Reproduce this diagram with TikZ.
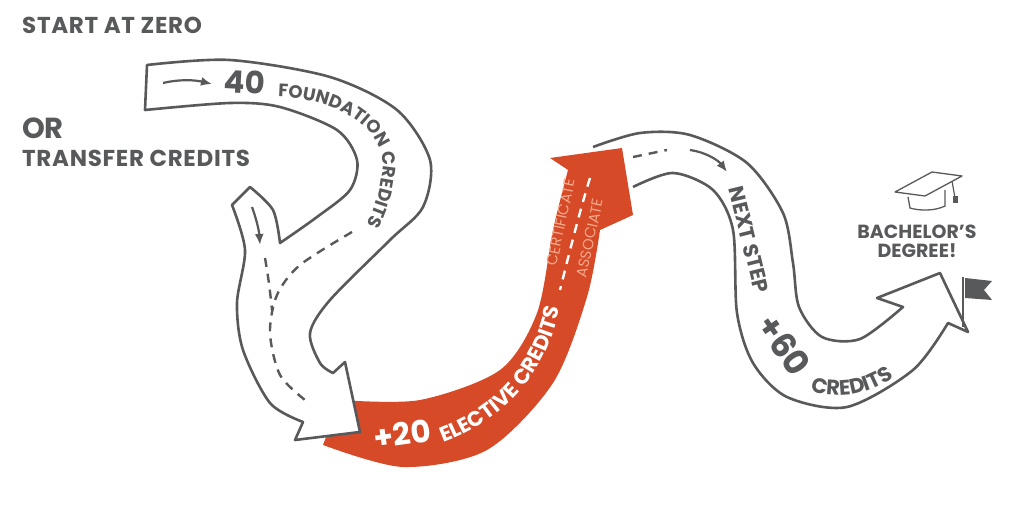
\documentclass[tikz,border=0pt]{standalone}
\usepackage{fontspec}
\setmainfont{Poppins}
\usetikzlibrary{decorations.text,arrows.meta}
\definecolor{roadgray}{HTML}{58595B}
\definecolor{roadorange}{HTML}{D64A28}
\definecolor{roadpink}{HTML}{F3A88A}
\newcommand{\fsz}[1]{\fontsize{#1}{#1}\selectfont}
\newcommand{\smallcaps}{\bfseries\fontsize{18pt}{18pt}\selectfont}
\newcommand{\midcaps}{\bfseries\fontsize{21pt}{21pt}\selectfont}
\begin{document}
\begin{tikzpicture}[x=1pt,y=-1pt,
  road/.style={draw=roadgray, line width=2.6pt, fill=white, line join=round},
  lane/.style={draw=roadgray, line width=2.4pt, dash pattern=on 9pt off 7pt},
  turn/.style={draw=roadgray, line width=2.2pt, -{Latex[length=11pt,width=9pt]}},
  label/.style={text=roadgray, font=\bfseries\fsz{23}\addfontfeatures{LetterSpace=3}, anchor=base west, inner sep=0pt},
  along/.style={decorate, decoration={text along path, text align=center, text color=#1}}]
\useasboundingbox (0,0) rectangle (1024,529);

% next step road
\draw[road] plot[smooth] coordinates {(593,147) (640,133) (690,135) (747,163) (783,213) (793,263) (799,307) (822,337) (860,339) (903,307)}
  -- (877,298) -- (940,273) -- (968,332) -- (948,323)
  -- plot[smooth] coordinates {(948,323) (913,370) (847,407) (787,397) (753,363) (737,313) (733,230) (713,190) (673,173) (633,187)};
\draw[lane] (633,157) -- (667,150);
\draw[turn] (690,150) .. controls (705,152) and (718,160) .. (727,172);

% elective arrow
\fill[roadorange] plot[smooth] coordinates {(323,445) (403,467) (487,450) (553,383) (587,297) (600,230)}
  -- (633,215) -- (622,148) -- (550,158) -- (568,170)
  -- plot[smooth] coordinates {(568,170) (553,230) (537,313) (500,370) (420,400) (340,400)} -- cycle;
\draw[lane, draw=white] (590,178) .. controls (580,210) and (570,250) .. (560,290);

% foundation and transfer road
\draw[road] plot[smooth] coordinates {(147,65) (230,60) (330,77) (397,110) (430,160) (423,207) (390,240) (330,300) (310,333) (320,363) (333,373)}
  -- (345,362) -- (360,432) -- (295,440) -- (303,422)
  -- plot[smooth] coordinates {(303,422) (270,403) (243,350) (237,303) (245,250) (232,205)}
  -- (250,187)
  -- plot[smooth] coordinates {(250,187) (273,210) (280,243)}
  -- plot[smooth] coordinates {(280,243) (317,217) (350,190) (357,160) (337,130) (280,107) (230,103) (145,110)} -- cycle;
\draw[lane] plot[smooth] coordinates {(352,232) (300,265) (277,295) (270,333) (280,375) (305,400)};
\draw[lane] (265,258) .. controls (268,275) and (270,290) .. (272,310);
\draw[turn] (252,207) .. controls (256,218) and (259,230) .. (260,245);
\draw[turn] (163,83) .. controls (180,79) and (195,80) .. (212,84);

% texts on the left
\node[label] (zero) at (22,34) {START AT ZERO};
\node[label, font=\bfseries\fsz{29}] (or) at (22,139) {OR};
\node[label] (transfer) at (22,167) {TRANSFER CREDITS};

% road labels
\node[text=roadgray, font=\bfseries\fsz{31}, rotate=-3] (forty) at (245,82) {40};
\path[along=roadgray, decoration={text align={align=left, left indent=8pt}, text={|\smallcaps|FOUNDATION CREDITS}}]
  (270,97) .. controls (345,96) and (390,135) .. (382,175) .. controls (379,200) and (370,220) .. (355,245);
\node[text=white, font=\bfseries\fsz{31}, rotate=8] (twenty) at (402,434) {+20};
\path[along=white, decoration={text={|\midcaps|ELECTIVE CREDITS}}]
  (433,446) .. controls (497,426) and (548,380) .. (562,298);
\node[text=roadpink, font=\fsz{15}, rotate=78] (cert) at (561,222) {CERTIFICATE};
\node[text=roadpink, font=\fsz{15}, rotate=78] (assoc) at (590,238) {ASSOCIATE};
\node[text=roadgray, font=\bfseries\fsz{21}, rotate=-76] (next) at (749,240) {NEXT STEP};
\node[text=roadgray, font=\bfseries\fsz{34}, rotate=-55] (sixty) at (784,345) {+60};
\path[along=roadgray, decoration={text={|\midcaps|CREDITS}}]
  (803,388) .. controls (835,402) and (872,396) .. (900,372);

% degree
\node[text=roadgray, font=\bfseries\fsz{19}, align=center, inner sep=0pt] (degree) at (917,241) {BACHELOR’S\\DEGREE!};
\draw[roadgray, line width=1.3pt, line join=round] (895,192) -- (932,172) -- (962,176) -- (925,196) -- cycle;
\draw[roadgray, line width=1.3pt] (908,197) -- (910,208) .. controls (920,211) and (935,211) .. (945,206) -- (945,190);
\draw[roadgray, line width=1.2pt] (952,181) -- (955,198);
\fill[roadgray] (953,196) rectangle (958,203);
\draw[roadgray, line width=2.4pt] (963,277) -- (963,327);
\fill[roadgray] (965,278) -- (992,281) -- (984,290) -- (992,300) -- (965,298) -- cycle;
\end{tikzpicture}
\end{document}
